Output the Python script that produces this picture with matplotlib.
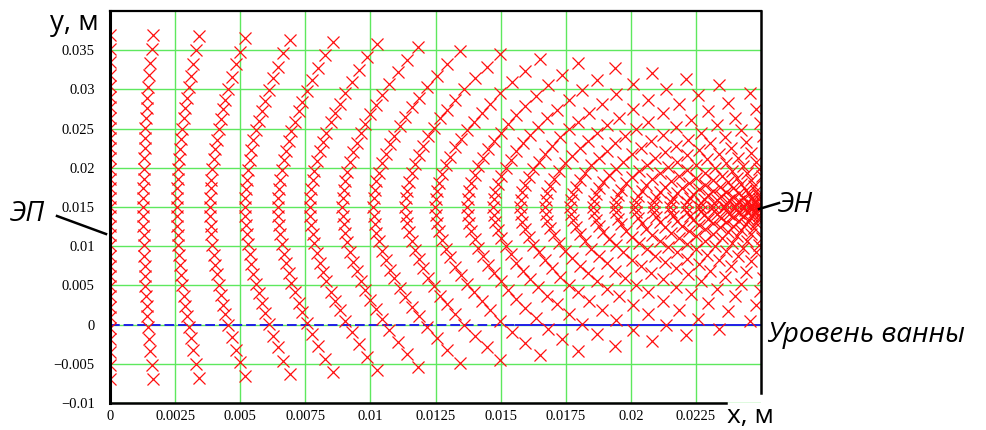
import matplotlib
matplotlib.use("Agg")
import matplotlib.pyplot as plt
from matplotlib.lines import Line2D

# ---------------- data ----------------
# Markers are given per "column" (equal step along the field lines).
# x in mm, dy = distance in mm from the ЭП–ЭН axis (y = 15 mm);
# every marker with dy > 0 is drawn above and below that axis.
AXIS_Y_MM = 15.0

X00 = [0.0, 0.0, 0.0, 0.0, 0.0, 0.0, 0.0, 0.0, 0.0, 0.0, 0.0, 0.0, 0.0, 0.0, 0.0, 0.0, 0.0]
DY00 = [0, 1.2, 2.4, 3.6, 4.9, 6.2, 7.5, 8.8, 10.1, 11.4, 12.7, 14.0, 15.4, 16.9, 18.5, 20.2, 22.0]
X01 = [1.27, 1.27, 1.28, 1.29, 1.30, 1.31, 1.33, 1.34, 1.36, 1.39, 1.41, 1.44, 1.47, 1.51, 1.55, 1.60, 1.65]
DY01 = [0, 1.2, 2.4, 3.6, 4.9, 6.2, 7.5, 8.8, 10.1, 11.3, 12.6, 13.9, 15.3, 16.8, 18.4, 20.1, 21.9]
X02 = [2.57, 2.57, 2.59, 2.60, 2.63, 2.66, 2.69, 2.73, 2.78, 2.83, 2.89, 2.95, 3.02, 3.10, 3.19, 3.30, 3.42]
DY02 = [0, 1.2, 2.4, 3.6, 4.9, 6.1, 7.4, 8.7, 10.0, 11.3, 12.6, 13.9, 15.3, 16.7, 18.3, 20.0, 21.8]
X03 = [3.84, 3.85, 3.87, 3.89, 3.93, 3.98, 4.03, 4.10, 4.17, 4.25, 4.34, 4.43, 4.55, 4.67, 4.82, 4.99, 5.18]
DY03 = [0, 1.2, 2.4, 3.5, 4.8, 6.1, 7.4, 8.6, 9.9, 11.2, 12.5, 13.7, 15.1, 16.6, 18.2, 19.8, 21.6]
X04 = [5.18, 5.19, 5.21, 5.25, 5.30, 5.36, 5.43, 5.51, 5.61, 5.71, 5.82, 5.95, 6.09, 6.26, 6.45, 6.66, 6.91]
DY04 = [0, 1.2, 2.3, 3.5, 4.7, 6.0, 7.3, 8.5, 9.8, 11.0, 12.3, 13.5, 14.9, 16.4, 17.9, 19.6, 21.3]
X05 = [6.45, 6.46, 6.49, 6.53, 6.59, 6.67, 6.76, 6.86, 6.97, 7.10, 7.24, 7.39, 7.56, 7.76, 8.00, 8.26, 8.56]
DY05 = [0, 1.2, 2.3, 3.5, 4.7, 6.0, 7.2, 8.4, 9.7, 10.9, 12.2, 13.4, 14.8, 16.2, 17.7, 19.4, 21.1]
X06 = [7.68, 7.69, 7.73, 7.78, 7.85, 7.95, 8.05, 8.18, 8.31, 8.47, 8.64, 8.82, 9.03, 9.28, 9.56, 9.88, 10.25]
DY06 = [0, 1.1, 2.3, 3.4, 4.6, 5.9, 7.1, 8.3, 9.5, 10.8, 12.0, 13.2, 14.6, 16.0, 17.5, 19.1, 20.8]
X07 = [8.91, 8.93, 8.97, 9.02, 9.11, 9.21, 9.33, 9.47, 9.63, 9.80, 10.00, 10.20, 10.45, 10.73, 11.05, 11.41, 11.83]
DY07 = [0, 1.1, 2.2, 3.3, 4.5, 5.8, 7.0, 8.2, 9.4, 10.6, 11.8, 13.0, 14.3, 15.7, 17.2, 18.7, 20.4]
X08 = [10.10, 10.12, 10.16, 10.23, 10.32, 10.44, 10.58, 10.75, 10.92, 11.12, 11.34, 11.58, 11.86, 12.18, 12.55, 12.96, 13.44]
DY08 = [0, 1.1, 2.2, 3.3, 4.4, 5.6, 6.8, 8.0, 9.1, 10.3, 11.5, 12.7, 13.9, 15.3, 16.7, 18.3, 19.9]
X09 = [11.33, 11.35, 11.40, 11.47, 11.58, 11.71, 11.86, 12.03, 12.23, 12.45, 12.69, 12.95, 13.25, 13.60, 14.00, 14.46, 14.98]
DY09 = [0, 1.1, 2.1, 3.2, 4.3, 5.5, 6.6, 7.8, 9.0, 10.1, 11.3, 12.4, 13.7, 15.0, 16.4, 17.9, 19.5]
X10 = [12.48, 12.50, 12.56, 12.64, 12.75, 12.90, 13.06, 13.26, 13.47, 13.71, 13.98, 14.27, 14.60, 14.99, 15.43, 15.93, 16.51]
DY10 = [0, 1.0, 2.1, 3.1, 4.2, 5.3, 6.4, 7.6, 8.7, 9.8, 10.9, 12.0, 13.2, 14.5, 15.9, 17.4, 18.9]
X11 = [13.71, 13.73, 13.79, 13.88, 14.00, 14.15, 14.33, 14.53, 14.76, 15.01, 15.30, 15.60, 15.95, 16.36, 16.83, 17.36, 17.97]
DY11 = [0, 1.0, 2.0, 3.0, 4.1, 5.2, 6.3, 7.4, 8.4, 9.5, 10.6, 11.7, 12.9, 14.1, 15.5, 16.9, 18.4]
X12 = [14.71, 14.73, 14.80, 14.89, 15.02, 15.19, 15.39, 15.61, 15.86, 16.14, 16.45, 16.78, 17.17, 17.62, 18.14, 18.72, 19.39]
DY12 = [0, 1.0, 1.9, 2.9, 3.9, 5.0, 6.0, 7.1, 8.1, 9.2, 10.2, 11.3, 12.4, 13.6, 14.9, 16.2, 17.7]
X13 = [15.74, 15.77, 15.84, 15.94, 16.08, 16.26, 16.48, 16.72, 16.99, 17.29, 17.63, 17.99, 18.41, 18.89, 19.45, 20.09, 20.81]
DY13 = [0, 0.9, 1.9, 2.8, 3.8, 4.8, 5.8, 6.8, 7.8, 8.9, 9.9, 10.9, 12.0, 13.1, 14.4, 15.7, 17.1]
X14 = [16.70, 16.73, 16.80, 16.91, 17.06, 17.26, 17.49, 17.75, 18.03, 18.36, 18.72, 19.10, 19.55, 20.07, 20.67, 21.35, 22.12]
DY14 = [0, 0.9, 1.8, 2.7, 3.6, 4.6, 5.6, 6.5, 7.5, 8.4, 9.4, 10.4, 11.4, 12.5, 13.7, 15.0, 16.3]
X15 = [17.66, 17.69, 17.77, 17.88, 18.04, 18.25, 18.49, 18.77, 19.07, 19.41, 19.79, 20.20, 20.67, 21.22, 21.85, 22.57, 23.39]
DY15 = [0, 0.9, 1.7, 2.6, 3.5, 4.4, 5.3, 6.2, 7.2, 8.1, 9.0, 9.9, 10.9, 12.0, 13.1, 14.3, 15.6]
X16 = [18.55, 18.58, 18.67, 18.79, 18.95, 19.17, 19.42, 19.71, 20.03, 20.40, 20.79, 21.22, 21.72, 22.30, 22.96, 23.72, 24.58]
DY16 = [0, 0.8, 1.6, 2.4, 3.2, 4.1, 4.9, 5.8, 6.7, 7.5, 8.4, 9.2, 10.2, 11.1, 12.2, 13.3, 14.5]
X17 = [19.39, 19.42, 19.51, 19.64, 19.81, 20.04, 20.30, 20.61, 20.94, 21.32, 21.73, 22.18, 22.70, 23.31, 24.00, 24.79]
DY17 = [0, 0.7, 1.5, 2.2, 3.0, 3.8, 4.6, 5.4, 6.2, 7.0, 7.8, 8.6, 9.5, 10.4, 11.4, 12.5]
X18 = [20.16, 20.19, 20.28, 20.42, 20.60, 20.83, 21.11, 21.42, 21.77, 22.16, 22.60, 23.06, 23.61, 24.23, 24.95]
DY18 = [0, 0.7, 1.4, 2.1, 2.8, 3.6, 4.3, 5.1, 5.8, 6.6, 7.3, 8.1, 8.9, 9.8, 10.7]
X19 = [20.85, 20.88, 20.98, 21.12, 21.31, 21.55, 21.84, 22.16, 22.52, 22.93, 23.38, 23.86, 24.43, 25.08]
DY19 = [0, 0.6, 1.3, 1.9, 2.6, 3.3, 4.0, 4.7, 5.4, 6.1, 6.8, 7.5, 8.3, 9.1]
X20 = [21.50, 21.54, 21.63, 21.77, 21.97, 22.22, 22.52, 22.85, 23.22, 23.64, 24.10, 24.60]
DY20 = [0, 0.6, 1.2, 1.8, 2.4, 3.1, 3.7, 4.4, 5.0, 5.6, 6.3, 6.9]
X21 = [22.12, 22.16, 22.26, 22.40, 22.60, 22.86, 23.16, 23.51, 23.89, 24.32, 24.80]
DY21 = [0, 0.6, 1.1, 1.7, 2.3, 2.8, 3.4, 4.0, 4.6, 5.2, 5.8]
X22 = [22.66, 22.70, 22.80, 22.95, 23.16, 23.42, 23.73, 24.09, 24.48, 24.92]
DY22 = [0, 0.5, 1.0, 1.5, 2.1, 2.6, 3.2, 3.7, 4.3, 4.8]
X23 = [23.16, 23.20, 23.30, 23.45, 23.67, 23.94, 24.25, 24.62, 25.02]
DY23 = [0, 0.5, 0.9, 1.4, 1.9, 2.4, 2.9, 3.4, 3.9]
X24 = [23.62, 23.66, 23.77, 23.92, 24.14, 24.41, 24.74]
DY24 = [0, 0.4, 0.9, 1.3, 1.8, 2.2, 2.7]
X25 = [24.00, 24.04, 24.15, 24.31, 24.53, 24.81]
DY25 = [0, 0.4, 0.8, 1.2, 1.6, 2.1]
X26 = [24.35, 24.39, 24.50, 24.66, 24.89]
DY26 = [0, 0.4, 0.7, 1.1, 1.5]
X27 = [24.60, 24.64, 24.75, 24.92]
DY27 = [0, 0.3, 0.7, 1.0]
X28 = [24.85, 24.89, 25.00]
DY28 = [0, 0.3, 0.6]
X29 = [24.95, 25.00]
DY29 = [0, 0.3]

x_ticks = [0, 0.0025, 0.005, 0.0075, 0.01, 0.0125, 0.015, 0.0175, 0.02, 0.0225]
x_tick_labels = ["0", "0.0025", "0.005", "0.0075", "0.01", "0.0125", "0.015",
                 "0.0175", "0.02", "0.0225"]
y_ticks = [-0.01, -0.005, 0, 0.005, 0.01, 0.015, 0.02, 0.025, 0.03, 0.035]
y_tick_labels = ["\u22120.01", "\u22120.005", "0", "0.005", "0.01", "0.015",
                 "0.02", "0.025", "0.03", "0.035"]
x_limits = (0, 0.025)
y_limits = (-0.01, 0.04)
bath_level = 0.0          # "Уровень ванны"
bath_dashed_until = 0.0156

# ---------------- figure ----------------
columns = [(X00, DY00), (X01, DY01), (X02, DY02), (X03, DY03), (X04, DY04),
           (X05, DY05), (X06, DY06), (X07, DY07), (X08, DY08), (X09, DY09),
           (X10, DY10), (X11, DY11), (X12, DY12), (X13, DY13), (X14, DY14),
           (X15, DY15), (X16, DY16), (X17, DY17), (X18, DY18), (X19, DY19),
           (X20, DY20), (X21, DY21), (X22, DY22), (X23, DY23), (X24, DY24),
           (X25, DY25), (X26, DY26), (X27, DY27), (X28, DY28), (X29, DY29)]

px, py = [], []
for xs, dys in columns:
    for xv, dv in zip(xs, dys):
        px.append(xv / 1000.0)
        py.append((AXIS_Y_MM + dv) / 1000.0)
        if dv > 0:
            px.append(xv / 1000.0)
            py.append((AXIS_Y_MM - dv) / 1000.0)

W, H = 986, 430
fig = plt.figure(figsize=(W / 100, H / 100), dpi=100)
fig.patch.set_facecolor("white")
ax = fig.add_axes([110 / W, 27 / H, 651 / W, 392 / H])
ax.set_xlim(*x_limits)
ax.set_ylim(*y_limits)

ax.set_xticks(x_ticks)
ax.set_xticklabels(x_tick_labels)
ax.set_yticks(y_ticks)
ax.set_yticklabels(y_tick_labels)
for lab in ax.get_xticklabels() + ax.get_yticklabels():
    lab.set_family("Liberation Serif")
    lab.set_fontsize(10.5)
ax.tick_params(axis="x", length=0, pad=5)
ax.tick_params(axis="y", length=0, pad=11)

ax.grid(True, color="#5ee85e", linewidth=1.0, zorder=0)
ax.set_axisbelow(True)
for s in ax.spines.values():
    s.set_visible(False)

# bath level line
ax.plot([x_limits[0], bath_dashed_until], [bath_level, bath_level],
        color="#2020e8", lw=1.4, ls=(0, (5, 2)), zorder=2)
ax.plot([bath_dashed_until, x_limits[1]], [bath_level, bath_level],
        color="#2020e8", lw=1.4, zorder=2)

# markers
ax.plot(px, py, linestyle="none", marker="x", color="#ff1010",
        markersize=8.5, markeredgewidth=0.9, zorder=3)

# frame (Mathcad style)
k = dict(transform=ax.transAxes, color="black", clip_on=False, zorder=5)
ax.add_line(Line2D([0, 0], [0, 1], lw=2.2, **k))
ax.add_line(Line2D([0, 0.946], [0, 0], lw=1.8, **k))
ax.add_line(Line2D([0, 1], [1, 1], lw=1.6, **k))
ax.add_line(Line2D([1, 1], [0.0255, 1], lw=1.8, **k))

fam = ["Open Sans", "DejaVu Sans"]


def ftext(x, y, s, size=20, **kw):
    fig.text(x / W, 1 - y / H, s, family=fam, fontsize=size,
             ha="left", va="baseline", **kw)


ftext(50, 30, "y, м")
ftext(727, 423, "x, м", size=19)
ftext(778, 212, "ЭН", style="italic")
ftext(10, 221, "ЭП", style="italic")
ftext(767, 342, "Уровень ванны", style="italic")

fk = dict(transform=fig.transFigure, color="black", lw=1.8)
fig.add_artist(Line2D([57 / W, 106 / W], [1 - 216 / H, 1 - 234 / H], **fk))
fig.add_artist(Line2D([759 / W, 779 / W], [1 - 209 / H, 1 - 203 / H], **fk))

fig.savefig("out.png", dpi=100)
